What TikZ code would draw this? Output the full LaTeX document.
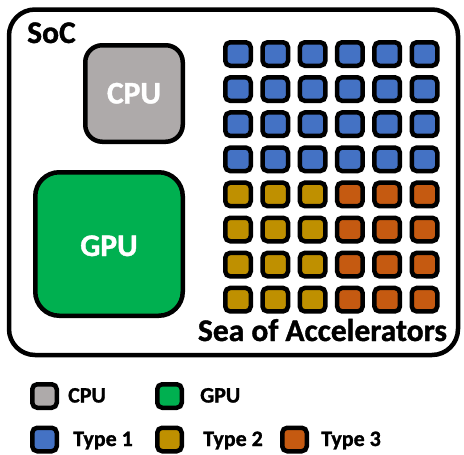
\documentclass[tikz,border=0pt]{standalone}
\usepackage{fontspec}
\setmainfont{Carlito}[BoldFeatures={FakeBold=1.2}]
\definecolor{cpugray}{HTML}{AEAAAA}
\definecolor{gpugreen}{HTML}{00B050}
\definecolor{acc1}{HTML}{4472C4}
\definecolor{acc2}{HTML}{BF9000}
\definecolor{acc3}{HTML}{C55A11}
\begin{document}
\begin{tikzpicture}[x=1pt,y=-1pt,
  chip/.style={draw=black, line width=4.5pt, rounded corners=#1, inner sep=0pt},
  tile/.style={draw=black, line width=4.5pt, rounded corners=5pt, minimum width=25.5pt, minimum height=23.5pt, inner sep=0pt, fill=#1},
  key/.style={draw=black, line width=4.5pt, rounded corners=5pt, minimum width=24.5pt, minimum height=23.5pt, inner sep=0pt, fill=#1},
  big/.style={font=\bfseries\fontsize{31.5}{31.5}\selectfont, inner sep=0pt},
  small/.style={font=\bfseries\fontsize{22}{22}\selectfont, inner sep=0pt, anchor=base west}]
\useasboundingbox (0,0) rectangle (464,455);
% system-on-chip outline
\node[chip=26pt, minimum width=449pt, minimum height=345.5pt] (soc) at (233.5,182.25) {};
\node[big, anchor=base west] (soclabel) at (27,43) {SoC};
% CPU and GPU blocks
\node[chip=17pt, fill=cpugray, minimum width=97.5pt, minimum height=96.5pt] (cpu) at (134,93.5) {};
\node[big, text=white, anchor=base] (cputext) at (134,103.5) {CPU};
\node[chip=24pt, fill=gpugreen, minimum width=147.5pt, minimum height=143.5pt] (gpu) at (109,244) {};
\node[big, text=white, anchor=base] (gputext) at (109,256) {GPU};
% sea of accelerators: 8 rows x 6 columns
\foreach \r in {0,...,7}{
  \foreach \c in {0,...,5}{
    \pgfmathsetmacro{\xx}{238+37.3*\c}
    \pgfmathsetmacro{\yy}{54+35.1*\r}
    \ifnum\r<4
      \def\tc{acc1}
    \else
      \ifnum\c<3 \def\tc{acc2}\else\def\tc{acc3}\fi
    \fi
    \node[tile=\tc] (t-\r-\c) at (\xx,\yy) {};
  }
}
\node[big, anchor=base] (sealabel) at (322.5,341) {Sea of Accelerators};
% legend
\node[key=cpugray] (kcpu) at (44.5,396) {};
\node[small] (lcpu) at (68,402.5) {CPU};
\node[key=gpugreen] (kgpu) at (169.5,396) {};
\node[small] (lgpu) at (200,402.5) {GPU};
\node[key=acc1] (k1) at (44.5,439.5) {};
\node[small] (l1) at (73,446) {Type 1};
\node[key=acc2] (k2) at (169.5,439.5) {};
\node[small] (l2) at (203,446) {Type 2};
\node[key=acc3] (k3) at (294.5,439.5) {};
\node[small] (l3) at (321,446) {Type 3};
\end{tikzpicture}
\end{document}
